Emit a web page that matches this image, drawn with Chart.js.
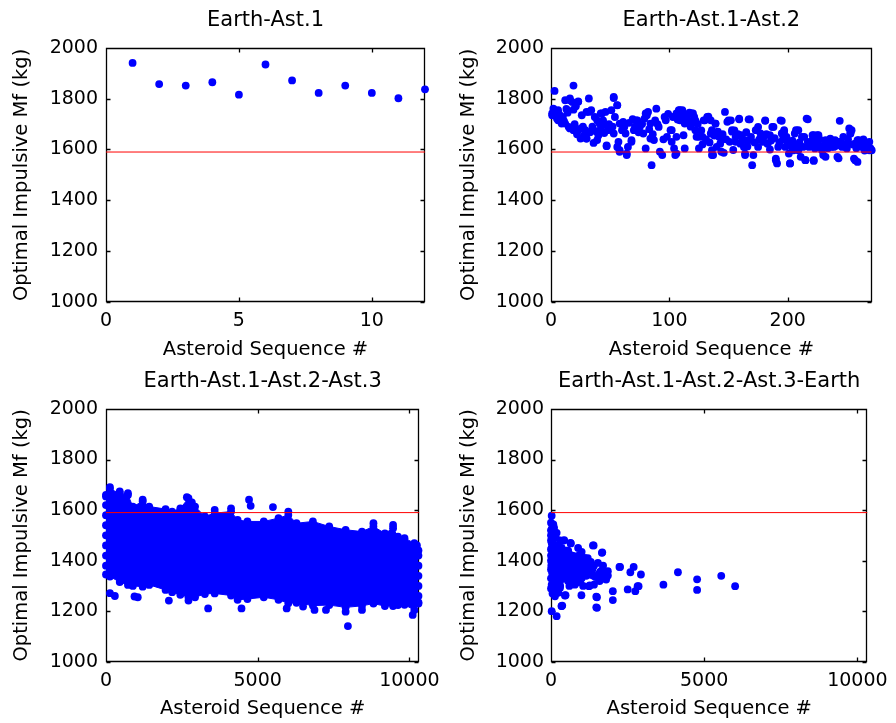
<!DOCTYPE html>
<html lang="en">
<head>
<meta charset="UTF-8">
<title>Optimal Impulsive Mf by Asteroid Sequence</title>
<style>
  body { margin: 0; background: #fff; }
  .figure { position: relative; width: 896px; height: 723px; }
  .figure canvas { position: absolute; }
</style>
</head>
<body>
<div class="figure">
  <canvas id="leg1" width="448" height="362" style="left:0;top:0"></canvas>
  <canvas id="leg2" width="448" height="362" style="left:448px;top:0"></canvas>
  <canvas id="leg3" width="448" height="362" style="left:0;top:361px"></canvas>
  <canvas id="leg4" width="448" height="362" style="left:448px;top:361px"></canvas>
</div>

<script src="https://cdn.jsdelivr.net/npm/chart.js"></script>
<script>
// ---- data ----
const mfLimit = 1590; // red reference line (kg)
const yTicks = [1000, 1200, 1400, 1600, 1800, 2000];

// Earth-Ast.1
const legOneSeq = [1, 2, 3, 4, 5, 6, 7, 8, 9, 10, 11, 12];
const legOneMf = [1941, 1858, 1852, 1865, 1816, 1935, 1872, 1823, 1852, 1823, 1802, 1837];
const legOneTicks = [0, 5, 10];

// Earth-Ast.1-Ast.2  [sequence #, Mf]
const legTwoPoints = [
  [3,1831],[1,1735],[3,1755],[5,1722],[8,1715],[9,1702],[2,1761],[12,1794],[16,1801],[19,1852],
  [18,1787],[23,1790],[19,1757],[15,1689],[19,1676],[25,1682],[25,1643],[29,1676],[30,1643],[32,1801],
  [30,1748],[34,1755],[37,1728],[36,1626],[39,1715],[41,1702],[44,1696],[47,1616],[43,1742],[46,1748],
  [53,1803],[56,1774],[51,1755],[54,1728],[48,1676],[53,1663],[58,1702],[61,1709],[57,1630],[56,1610],
  [58,1591],[60,1676],[63,1663],[64,1578],[65,1610],[68,1637],[70,1676],[72,1715],[75,1689],[78,1663],
  [80,1604],[81,1735],[82,1748],[84,1702],[85,1538],[87,1637],[89,1761],[88,1715],[91,1689],[92,1591],
  [94,1578],[96,1728],[98,1650],[101,1676],[102,1630],[104,1604],[106,1742],[105,1578],[108,1755],[111,1755],
  [109,1715],[112,1656],[115,1735],[113,1604],[116,1715],[120,1742],[119,1702],[122,1676],[123,1650],[125,1604],
  [122,1715],[129,1715],[132,1728],[135,1715],[136,1676],[137,1578],[139,1702],[142,1650],[143,1623],[144,1591],
  [140,1610],[147,1748],[149,1709],[152,1715],[153,1676],[156,1650],[159,1722],[160,1623],[161,1656],[163,1610],
  [164,1578],[167,1719],[168,1637],[171,1578],[170,1538],[173,1676],[175,1689],[177,1663],[180,1650],[181,1715],
  [183,1623],[185,1656],[188,1689],[190,1564],[191,1545],[192,1610],[194,1715],[195,1663],[197,1676],[198,1610],
  [199,1650],[201,1584],[202,1545],[205,1597],[206,1663],[209,1676],[211,1571],[214,1650],[215,1558],[216,1722],
  [218,1610],[221,1637],[222,1558],[222,1656],[225,1656],[226,1617],[229,1597],[230,1578],[232,1637],[235,1623],
  [236,1643],[239,1610],[240,1637],[242,1571],[244,1713],[246,1610],[247,1650],[250,1623],[253,1663],[254,1676],
  [256,1564],[257,1623],[259,1551],[260,1637],[263,1610],[266,1617],[267,1623],[269,1630],[270,1604],[271,1597],
  [6,1715],[12,1702],[16,1683],[23,1676],[30,1643],[39,1637],[47,1613],[32,1748],[42,1742],[44,1715],
  [50,1683],[58,1597],[61,1702],[68,1630],[64,1584],[73,1715],[80,1742],[84,1643],[97,1715],[102,1676],
  [106,1584],[109,1755],[113,1702],[119,1742],[125,1650],[130,1715],[136,1597],[106,1650],[53,1807],[56,1775],
  [1,1742],[6,1755],[16,1794],[23,1788],[133,1729],[139,1702],[150,1715],[159,1719],[168,1719],[181,1713],
  [195,1713],[217,1719],[135,1663],[144,1637],[153,1670],[164,1637],[174,1676],[178,1650],[187,1689],[197,1670],
  [207,1676],[212,1650],[221,1656],[226,1656],[235,1637],[243,1630],[253,1663],[259,1637],[136,1578],[146,1587],
  [164,1584],[190,1558],[202,1545],[215,1558],[222,1555],[232,1571],[243,1565],[257,1558],[269,1597],[175,1610],
  [156,1630],[183,1624],[209,1597],[223,1604],[237,1610],[250,1604],[263,1617],[252,1683],
  [4,1745],[7,1738],[10,1728],[13,1760],[14,1745],[21,1770],[26,1735],[11,1712],[20,1700],[27,1690],
  [22,1660],[28,1655],[33,1668],[35,1690],[38,1672],[40,1655],[42,1680],[45,1665],[49,1700],[52,1690],
  [62,1690],[66,1705],[69,1720],[71,1690],[74,1668],[77,1700],[79,1722],[83,1680],[86,1660],[90,1700],
  [99,1740],[103,1728],[107,1718],[110,1735],[114,1725],[117,1745],[118,1690],[121,1728],[124,1700],[127,1675],
  [128,1650],[131,1640],[134,1628],[138,1655],[141,1670],[145,1660],[148,1640],[151,1630],[155,1675],[158,1660],
  [162,1640],[165,1668],[169,1650],[172,1628],[176,1640],[179,1630],[182,1660],[186,1635],[189,1645],[193,1628],
  [196,1640],[200,1625],[204,1635],[208,1618],[210,1628],[213,1610],[217,1630],[220,1620],[224,1632],[227,1640],
  [231,1618],[234,1605],[238,1628],[241,1615],[245,1630],[248,1612],[251,1640],[255,1620],[258,1605],[261,1625],
  [264,1640],[268,1612],[265,1596],[228,1608],[203,1612],[185,1600],[166,1612],[154,1598],[128,1620],[95,1640]
];
const legTwoTicks = [0, 100, 200];

// Earth-Ast.1-Ast.2-Ast.3: the dense cloud as upper/lower edges plus stray points
const legThreeEdgeSeq = [0, 130, 453, 723, 885, 1209, 1425, 1964, 2180, 2450, 2719, 2935, 3259, 3583, 4122, 4338,
  4662, 5201, 5687, 6010, 6280, 6820, 7359, 7899, 8438, 8816, 9193, 9463, 9625, 9841, 10164, 10300];
const legThreeUpper = [1654, 1683, 1667, 1660, 1614, 1634, 1614, 1604, 1594, 1607, 1647, 1614, 1575, 1588, 1594, 1561,
  1555, 1555, 1568, 1581, 1548, 1555, 1535, 1522, 1515, 1535, 1508, 1528, 1495, 1489, 1469, 1440];
const legThreeLower = [1345, 1337, 1315, 1304, 1300, 1297, 1304, 1284, 1275, 1265, 1255, 1255, 1268, 1270, 1262, 1245,
  1248, 1255, 1245, 1231, 1233, 1222, 1224, 1215, 1221, 1230, 1220, 1220, 1224, 1225, 1205, 1235];
const legThreeStray = [
  [130,1691],[453,1674],[723,1667],[1209,1641],[2665,1651],[2830,1630],[4715,1641],[4769,1617],[5503,1612],[6010,1594],
  [4122,1607],[3583,1601],[9463,1541],[8816,1548],[130,1271],[292,1260],[939,1258],[1047,1255],[2072,1242],[2719,1242],
  [3367,1211],[4467,1211],[5956,1211],[6496,1218],[6873,1205],[7251,1205],[7899,1198],[7974,1141],[8438,1205],[10110,1185],
  [0,1380],[0,1420],[0,1460],[0,1500],[0,1540],[0,1580],[0,1620],[0,1660],
  [10300,1260],[10300,1300],[10300,1340],[10300,1380],[10300,1420],[10250,1460],[10300,1230]
];
const bigTicks = [0, 5000, 10000];

// Earth-Ast.1-Ast.2-Ast.3-Earth
const legFourPoints = [
  [22,1578],[22,1523],[76,1543],[76,1496],[22,1470],[0,1444],[130,1417],[22,1391],[0,1365],[130,1338],
  [22,1305],[184,1510],[238,1457],[292,1404],[238,1365],[184,1312],[22,1200],[184,1180],[130,1259],[292,1292],
  [346,1220],[238,1273],[432,1481],[648,1468],[885,1450],[561,1437],[777,1417],[1101,1411],[1392,1460],[1673,1433],
  [1532,1391],[1263,1378],[993,1365],[669,1378],[453,1365],[885,1338],[615,1319],[1371,1341],[1586,1319],[1856,1358],
  [1856,1341],[2255,1375],[2698,1375],[2590,1354],[2935,1345],[2827,1299],[2752,1279],[2504,1286],[2018,1279],[2018,1244],
  [1478,1257],[1478,1215],[1263,1302],[993,1263],[475,1263],[367,1222],[777,1305],[1403,1305],[1101,1391],[3669,1305],
  [4143,1354],[4769,1326],[4769,1284],[5557,1340],[6010,1299],[399,1479],[637,1470],[1370,1460],[1662,1431],[2234,1375],
  [2859,1299],[1241,1299],[1500,1255],[1500,1213],[345,1220],[453,1262],
  [0,1500],[50,1480],[100,1460],[150,1440],[30,1420],[80,1400],[10,1380],[60,1360],[120,1350],[200,1340],
  [20,1450],[100,1530],[160,1490],[220,1420],[180,1380],[60,1330],[0,1330],[250,1460],[300,1440],[350,1420],
  [400,1400],[500,1390],[600,1400],[700,1380],[800,1400],[900,1370],[1000,1390],[1100,1380],[1200,1360],[1300,1350],
  [400,1330],[500,1350],[700,1340],[300,1320],[800,1330],[1000,1330],[600,1300],[200,1290],[300,1300],[0,1420],
  [0,1400],[0,1480],[0,1520],[40,1350],[100,1310],[0,1290],[50,1270],[150,1360],[250,1380],[350,1370],
  [450,1420],[550,1440],[700,1420],[850,1390],[950,1410],[1150,1340],[1600,1355],[1700,1380],[1200,1410],[300,1480],
  [150,1510],[0,1550],[40,1530],
  [350,1450],[450,1385],[550,1375],[650,1360],[750,1365],[850,1355],[950,1345],[1050,1360],[1150,1370],[1250,1345],
  [1350,1365],[1450,1335],[1550,1345],[1650,1360],[1750,1345],[400,1440],[500,1420],[600,1425],[750,1400],[900,1420],
  [1000,1435],[1050,1410],[1200,1380],[1300,1395],[1400,1380],[550,1320],[650,1335],[800,1310],[950,1315],[1050,1300],
  [1700,1330],[1800,1325],[250,1330],[350,1345],[200,1400],[120,1395],[70,1430],[170,1460],[260,1420],[70,1300]
];

// ---- styling ----
const family = "'DejaVu Sans', sans-serif";
const blue = '#0000ff';
const dotRadius = 3.9;

// box around the plot area with inward tick marks on all four sides
const boxFrame = {
  id: 'boxFrame',
  beforeDatasetsDraw(chart) {
    const { ctx, chartArea: a, scales: { x, y } } = chart;
    const l = Math.round(a.left) + 0.5, r = Math.round(a.right) - 0.5;
    const t = Math.round(a.top) + 0.5, b = Math.round(a.bottom) - 0.5;
    const len = 4;
    ctx.save();
    ctx.strokeStyle = '#000';
    ctx.lineWidth = 1.3;
    ctx.beginPath();
    ctx.rect(l, t, r - l, b - t);
    x.ticks.forEach(tk => {
      const px = Math.round(x.getPixelForValue(tk.value)) + 0.5;
      ctx.moveTo(px, b); ctx.lineTo(px, b - len);
      ctx.moveTo(px, t); ctx.lineTo(px, t + len);
    });
    y.ticks.forEach(tk => {
      const py = Math.round(y.getPixelForValue(tk.value)) + 0.5;
      ctx.moveTo(l, py); ctx.lineTo(l + len, py);
      ctx.moveTo(r, py); ctx.lineTo(r - len, py);
    });
    ctx.stroke();
    ctx.restore();
  }
};

function dots(points) {
  return {
    data: points.map(([x, y]) => ({ x, y })),
    pointRadius: dotRadius,
    pointBackgroundColor: blue,
    pointBorderWidth: 0,
    showLine: false,
    clip: false
  };
}

function limitLine(xMax) {
  return {
    type: 'line',
    data: [{ x: 0, y: mfLimit }, { x: xMax, y: mfLimit }],
    borderColor: '#ff0000',
    borderWidth: 1,
    pointRadius: 0,
    fill: false
  };
}

function edgeLine(seq, vals, fill) {
  return {
    type: 'line',
    data: seq.map((x, i) => ({ x, y: vals[i] })),
    borderColor: blue,
    borderWidth: 1,
    backgroundColor: blue,
    fill: fill,
    tension: 0,
    pointRadius: dotRadius,
    pointBackgroundColor: blue,
    pointBorderWidth: 0,
    clip: false
  };
}

function makePanel(id, o) {
  new Chart(document.getElementById(id), {
    type: 'scatter',
    data: { datasets: o.datasets },
    plugins: [boxFrame],
    options: {
      responsive: false,
      devicePixelRatio: 1,
      animation: false,
      events: [],
      layout: { padding: { left: 0, right: o.padRight, top: 0, bottom: 0 } },
      plugins: {
        legend: { display: false },
        tooltip: { enabled: false },
        title: {
          display: true,
          text: o.title,
          fullSize: false,
          color: '#000',
          font: { family, size: 21, weight: 'normal' },
          padding: { top: 8, bottom: 14.8 }
        }
      },
      scales: {
        x: {
          type: 'linear',
          min: 0,
          max: o.xMax,
          grid: { display: false, drawTicks: false },
          border: { display: false },
          afterBuildTicks: s => { s.ticks = o.xTicks.map(v => ({ value: v })); },
          afterFit: s => { s.height = o.xHeight; },
          ticks: { color: '#000', font: { family, size: 19 }, padding: 7.5, autoSkip: false, maxRotation: 0, callback: v => String(v) },
          title: { display: true, text: 'Asteroid Sequence #', color: '#000', font: { family, size: 19.5 }, padding: { top: 0, bottom: o.xTitlePad } }
        },
        y: {
          min: 1000,
          max: 2000,
          grid: { display: false, drawTicks: false },
          border: { display: false },
          afterBuildTicks: s => { s.ticks = yTicks.map(v => ({ value: v })); },
          afterFit: s => { s.width = o.yWidth; },
          ticks: { color: '#000', font: { family, size: 19 }, padding: o.yTickPad, autoSkip: false, callback: v => String(v) },
          title: { display: true, text: 'Optimal Impulsive Mf (kg)', color: '#000', font: { family, size: 19.5 }, padding: { top: o.yTitlePad, bottom: 0 } }
        }
      }
    }
  });
}

makePanel('leg1', {
  title: 'Earth-Ast.1', xMax: 12, xTicks: legOneTicks,
  yWidth: 106, padRight: 23, xHeight: 60.3, xTitlePad: 0, yTickPad: 8, yTitlePad: 10,
  datasets: [limitLine(12), dots(legOneSeq.map((s, i) => [s, legOneMf[i]]))]
});

makePanel('leg2', {
  title: 'Earth-Ast.1-Ast.2', xMax: 271, xTicks: legTwoTicks,
  yWidth: 103, padRight: 24.3, xHeight: 60.3, xTitlePad: 0, yTickPad: 7, yTitlePad: 9,
  datasets: [limitLine(271), dots(legTwoPoints)]
});

makePanel('leg3', {
  title: 'Earth-Ast.1-Ast.2-Ast.3', xMax: 10330, xTicks: bigTicks,
  yWidth: 106, padRight: 23, xHeight: 61.3, xTitlePad: 2.5, yTickPad: 8, yTitlePad: 10,
  datasets: [
    limitLine(10330),
    dots(legThreeStray),
    edgeLine(legThreeEdgeSeq, legThreeUpper, '+1'),
    edgeLine(legThreeEdgeSeq, legThreeLower, false)
  ]
});

makePanel('leg4', {
  title: 'Earth-Ast.1-Ast.2-Ast.3-Earth', xMax: 10330, xTicks: bigTicks,
  yWidth: 103, padRight: 24, xHeight: 61.3, xTitlePad: 2.5, yTickPad: 7, yTitlePad: 9,
  datasets: [limitLine(10330), dots(legFourPoints)]
});
</script>
</body>
</html>
